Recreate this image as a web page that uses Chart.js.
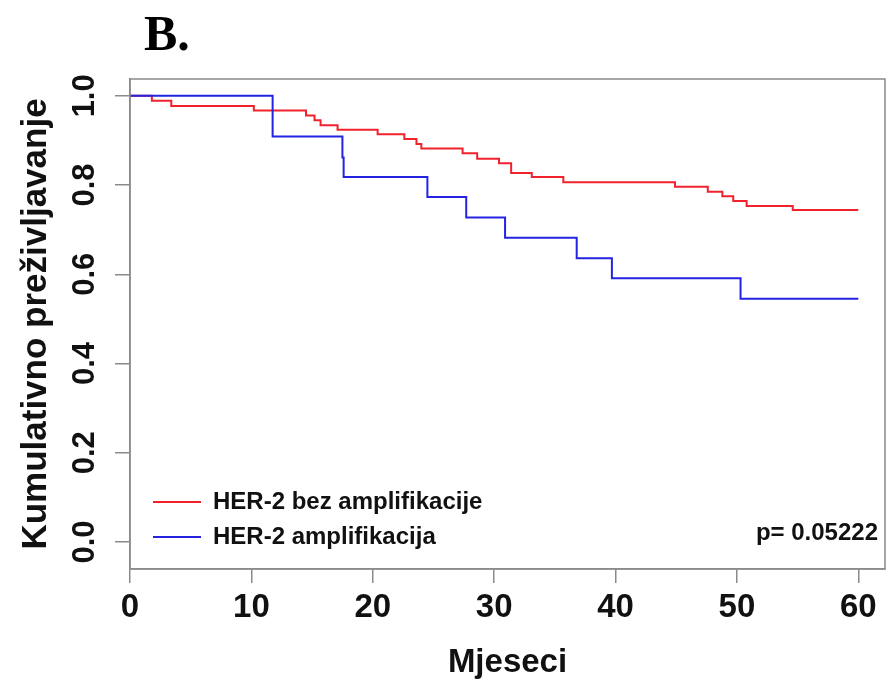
<!DOCTYPE html>
<html>
<head>
<meta charset="utf-8">
<script src="https://cdn.jsdelivr.net/npm/chart.js@4"></script>
<style>
  body { margin: 0; background: #fff; }
  #wrap { position: relative; width: 887px; height: 683px; }
  #panel { position: absolute; left: 144px; top: 4px; font: bold 50px "Liberation Serif", "Times New Roman", serif; color: #000; }
</style>
</head>
<body>
<div id="wrap">
  <canvas id="km" width="887" height="683"></canvas>
  <div id="panel">B.</div>
</div>

<script>
  // survival curves (months, cumulative survival)
  const redMonths = [0, 1.8, 3.4, 10.2, 14.5, 15.2, 15.7, 17.1, 20.4, 22.6, 23.6, 24.0, 27.4, 28.6, 30.4, 31.4, 33.1, 35.7, 44.9, 47.6, 48.8, 49.7, 50.8, 54.6, 60];
  const redSurv   = [1.0, 0.989, 0.977, 0.967, 0.956, 0.945, 0.934, 0.924, 0.914, 0.903, 0.892, 0.882, 0.871, 0.859, 0.849, 0.827, 0.818, 0.806, 0.796, 0.785, 0.775, 0.764, 0.753, 0.744, 0.744];
  const blueMonths = [0, 11.75, 17.5, 17.6, 24.5, 27.7, 30.9, 36.8, 39.7, 50.3, 60];
  const blueSurv   = [1.0, 0.909, 0.862, 0.818, 0.773, 0.727, 0.682, 0.636, 0.591, 0.545, 0.545];

  const seriesNames = ['HER-2 bez amplifikacije', 'HER-2 amplifikacija'];
  const xTicks = [0, 10, 20, 30, 40, 50, 60];
  const yTicks = [0.0, 0.2, 0.4, 0.6, 0.8, 1.0];
  const pValue = 'p= 0.05222';

  const toPoints = (xs, ys) => xs.map((x, i) => ({ x: x, y: ys[i] }));

  const boxPlugin = {
    id: 'box',
    afterLayout(chart) {
      // legend sits inside the plot, bottom left
      const lg = chart.legend, a = chart.chartArea;
      lg.left = a.left + 12;
      lg.bottom = a.bottom - 9;
    },
    afterDraw(chart) {
      const { ctx, chartArea: a } = chart;
      ctx.save();
      ctx.strokeStyle = '#8a8a8a';
      ctx.lineWidth = 1.5;
      ctx.strokeRect(a.left, a.top, a.right - a.left, a.bottom - a.top);
      ctx.fillStyle = '#111';
      ctx.font = 'bold 24px "Liberation Sans", Arial, sans-serif';
      ctx.textAlign = 'right';
      ctx.textBaseline = 'middle';
      ctx.fillText(pValue, a.right - 7, 533);
      ctx.restore();
    }
  };

  new Chart(document.getElementById('km'), {
    type: 'line',
    data: {
      datasets: [{
        label: seriesNames[0],
        data: toPoints(redMonths, redSurv),
        borderColor: 'rgb(240,35,45)',
        backgroundColor: 'rgb(240,35,45)',
        borderWidth: 2,
        stepped: true,
        pointRadius: 0,
        order: 1
      }, {
        label: seriesNames[1],
        data: toPoints(blueMonths, blueSurv),
        borderColor: 'rgb(35,35,225)',
        backgroundColor: 'rgb(35,35,225)',
        borderWidth: 2,
        stepped: true,
        pointRadius: 0,
        order: 0
      }]
    },
    options: {
      responsive: false,
      animation: false,
      layout: { padding: { top: 79, right: 2, left: 0, bottom: 0 } },
      plugins: {
        title: { display: false },
        tooltip: { enabled: false },
        legend: {
          position: 'chartArea',
          align: 'end',
          labels: {
            usePointStyle: true,
            pointStyle: 'line',
            pointStyleWidth: 48,
            padding: 11,
            color: '#111',
            font: { family: '"Liberation Sans", Arial, sans-serif', size: 24, weight: 'bold' },
            sort: (a, b) => a.datasetIndex - b.datasetIndex
          }
        }
      },
      scales: {
        x: {
          type: 'linear',
          min: 0,
          max: 62.2,
          afterBuildTicks: s => { s.ticks = xTicks.map(v => ({ value: v })); },
          afterFit: s => { s.height = 114; },
          grid: { drawOnChartArea: false, drawTicks: true, tickLength: 14, color: '#8a8a8a', lineWidth: 1.5 },
          border: { display: true, color: '#8a8a8a', width: 1.5 },
          ticks: {
            color: '#111',
            padding: 5,
            maxRotation: 0,
            font: { family: '"Liberation Sans", Arial, sans-serif', size: 33, weight: 'bold' }
          },
          title: {
            display: true,
            text: 'Mjeseci',
            color: '#111',
            padding: { top: 0, bottom: 0 },
            font: { family: '"Liberation Sans", Arial, sans-serif', size: 33, weight: 'bold' }
          }
        },
        y: {
          type: 'linear',
          min: -0.0606,
          max: 1.0377,
          afterBuildTicks: s => { s.ticks = yTicks.map(v => ({ value: v })); },
          afterFit: s => { s.width = 130; },
          grid: { drawOnChartArea: false, drawTicks: true, tickLength: 15, color: '#8a8a8a', lineWidth: 1.5 },
          border: { display: true, color: '#8a8a8a', width: 1.5 },
          ticks: {
            color: '#111',
            padding: 8,
            minRotation: 90,
            maxRotation: 90,
            crossAlign: 'center',
            callback: v => v.toFixed(1),
            font: { family: '"Liberation Sans", Arial, sans-serif', size: 31, weight: 'bold' }
          },
          title: {
            display: true,
            text: 'Kumulativno preživljavanje',
            color: '#111',
            padding: { top: 15, bottom: 0 },
            font: { family: '"Liberation Sans", Arial, sans-serif', size: 35, weight: 'bold' }
          }
        }
      }
    },
    plugins: [boxPlugin]
  });
</script>
</body>
</html>
